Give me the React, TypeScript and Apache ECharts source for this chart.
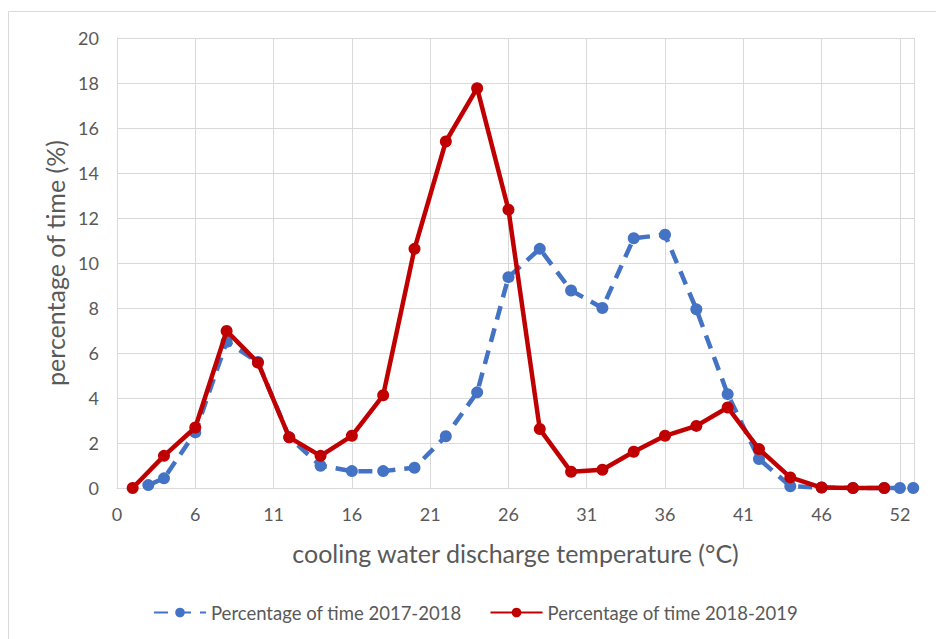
import React, { useEffect, useRef } from "react";
import * as echarts from "echarts";

// x positions on the chart's temperature axis (tick i sits at 5*i)
const xTickLabels = ["0", "6", "11", "16", "21", "26", "31", "36", "41", "46", "52"];

const xBlue = [2, 3, 5, 7, 9, 11, 13, 15, 17, 19, 21, 23, 25, 27, 29, 31, 33, 35, 37, 39, 41, 43, 45, 47, 49, 50, 50.85];
const yBlue = [0.13, 0.43, 2.47, 6.5, 5.6, 2.25, 0.99, 0.75, 0.75, 0.9, 2.3, 4.25, 9.37, 10.63, 8.78, 8.0, 11.1, 11.26, 7.94, 4.17, 1.29, 0.08, 0.02, 0, 0, 0, 0];

const xRed = [1, 3, 5, 7, 9, 11, 13, 15, 17, 19, 21, 23, 25, 27, 29, 31, 33, 35, 37, 39, 41, 43, 45, 47, 49];
const yRed = [0, 1.43, 2.69, 6.98, 5.57, 2.25, 1.43, 2.32, 4.12, 10.63, 15.4, 17.77, 12.37, 2.62, 0.72, 0.81, 1.61, 2.32, 2.76, 3.58, 1.73, 0.47, 0.02, 0, 0];

const seriesNames = ["Percentage of time 2017-2018", "Percentage of time 2018-2019"];
const xTitle = "cooling water discharge temperature (°C)";
const yTitle = "percentage of time (%)";

const FONT = "Lato, 'Noto Sans', sans-serif";
const GRAY = "#595959";
const GRID = "#D9D9D9";

export default function App() {
  const ref = useRef<HTMLDivElement>(null);
  useEffect(() => {
    if (!ref.current) return;
    const chart = echarts.init(ref.current, undefined, { renderer: "svg" });
    const blueData = xBlue.map((x, i) => [x, yBlue[i]]);
    const redData = xRed.map((x, i) => [x, yRed[i]]);
    chart.setOption({
      animation: false,
      backgroundColor: "#ffffff",
      textStyle: { fontFamily: FONT },
      graphic: [
        {
          type: "rect",
          shape: { x: 8.5, y: 11.5, width: 940, height: 640 },
          style: { fill: "none", stroke: "#D9D9D9", lineWidth: 1 },
          silent: true,
        },
      ],
      grid: { left: 117, right: 22, top: 38, bottom: 151, containLabel: false },
      legend: {
        bottom: 12,
        left: 148,
        itemWidth: 52,
        itemHeight: 12,
        itemGap: 28,
        textStyle: { color: GRAY, fontSize: 18.5, fontFamily: FONT },
        data: seriesNames,
      },
      xAxis: {
        type: "value",
        min: 0,
        max: 50.9,
        interval: 5,
        name: xTitle,
        nameLocation: "middle",
        nameGap: 52,
        nameTextStyle: { color: GRAY, fontSize: 25, fontFamily: FONT },
        axisLine: { show: true, lineStyle: { color: GRID } },
        axisTick: { show: false },
        axisLabel: {
          color: GRAY,
          fontSize: 18,
          margin: 17,
          showMaxLabel: false,
          formatter: (v: number) => {
            const i = Math.round(v / 5);
            return Math.abs(v - i * 5) < 1e-6 ? xTickLabels[i] ?? "" : "";
          },
        },
        splitLine: { show: true, lineStyle: { color: GRID, width: 1 } },
      },
      yAxis: {
        type: "value",
        min: 0,
        max: 20,
        interval: 2,
        name: yTitle,
        nameLocation: "middle",
        nameGap: 48,
        nameTextStyle: { color: GRAY, fontSize: 25, fontFamily: FONT },
        axisLine: { show: true, lineStyle: { color: GRID } },
        axisTick: { show: false },
        axisLabel: { color: GRAY, fontSize: 18, margin: 18 },
        splitLine: { show: true, lineStyle: { color: GRID, width: 1 } },
      },
      series: [
        {
          name: seriesNames[0],
          type: "line",
          data: blueData,
          clip: false,
          symbol: "circle",
          symbolSize: 12,
          color: "#4472C4",
          itemStyle: { color: "#4472C4" },
          lineStyle: { color: "#4472C4", width: 4.5, type: [14, 9], cap: "butt" },
          z: 2,
        },
        {
          name: seriesNames[1],
          type: "line",
          data: redData,
          clip: false,
          symbol: "circle",
          symbolSize: 12,
          color: "#C00000",
          itemStyle: { color: "#C00000" },
          lineStyle: { color: "#C00000", width: 4.5 },
          z: 3,
        },
      ],
    });
    return () => chart.dispose();
  }, []);
  return (
    <div
      ref={ref}
      style={{ position: "absolute", left: 0, top: 0, width: 936, height: 639 }}
    />
  );
}
